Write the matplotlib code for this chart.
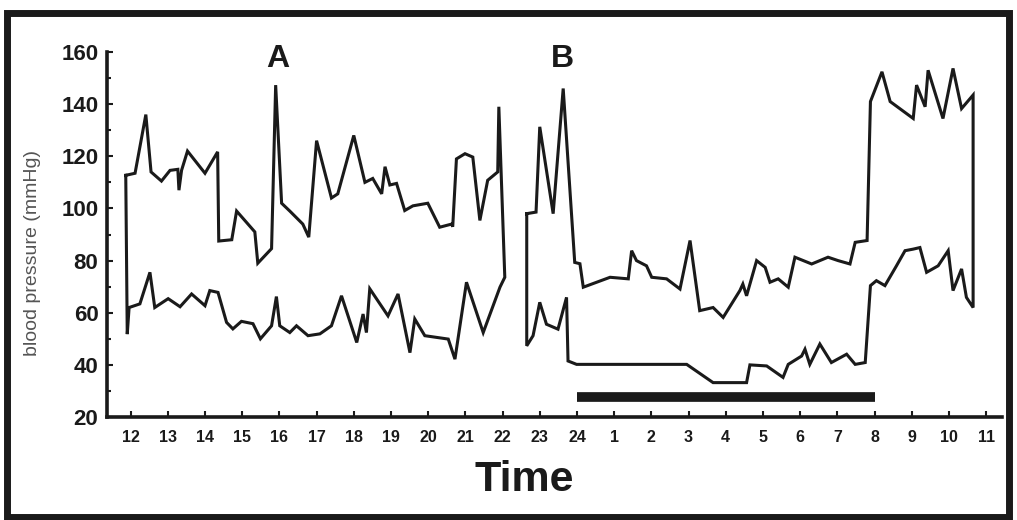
import matplotlib
matplotlib.use("Agg")
import matplotlib.pyplot as plt
from matplotlib.patches import Rectangle
from matplotlib.ticker import MultipleLocator

# time in hours after 12:00 (day 1)
a_sys_t = [-0.13, 0.12, 0.41, 0.55, 0.83, 1.06, 1.27, 1.30, 1.37, 1.53, 2.00, 2.34, 2.37,
           2.72, 2.85, 3.34, 3.42, 3.79, 3.90, 4.06, 4.28, 4.63, 4.79, 5.00, 5.40, 5.57,
           6.00, 6.30, 6.51, 6.75, 6.84, 6.97, 7.15, 7.37, 7.59, 7.99, 8.31, 8.63, 8.66,
           8.76, 8.99, 9.20, 9.39, 9.60, 9.87, 9.90, 10.06]
a_sys = [112.7, 113.5, 136, 114, 110.5, 114.6, 115, 107, 114.6, 122, 113.5, 121.7, 87.5,
         88, 99, 91, 79, 84.6, 147.3, 102, 99, 94, 89, 126, 104, 105.6,
         128, 110, 111.5, 105.6, 116, 109, 109.6, 99.2, 101, 102, 92.8, 94, 93,
         119, 121, 119.7, 95.4, 110.8, 114, 139, 73.6]
a_dia_t = [-0.09, -0.04, 0.25, 0.52, 0.65, 1.01, 1.33, 1.64, 2.00, 2.13, 2.35, 2.58, 2.75,
           2.98, 3.29, 3.49, 3.79, 3.92, 4.01, 4.28, 4.46, 4.77, 5.09, 5.40, 5.67, 6.08,
           6.25, 6.34, 6.43, 6.92, 7.19, 7.51, 7.64, 7.91, 8.54, 8.72, 9.03, 9.48, 9.93,
           10.06]
a_dia = [51.8, 62, 63.4, 75.5, 62, 65.4, 62.3, 67.2, 62.7, 68.5, 67.8, 56.3, 53.8,
         56.7, 55.8, 50, 55, 66.2, 55, 52.4, 55, 51.2, 51.9, 55, 66.5, 48.6,
         59.5, 52.4, 69.2, 58.8, 67.2, 44.7, 57.6, 51.2, 49.9, 42.2, 71.7, 52.4, 69.8,
         73.6]

b_sys_t = [10.65, 10.90, 11.00, 11.36, 11.63, 11.94, 12.08, 12.17, 12.53, 12.89, 13.38,
           13.47, 13.60, 13.87, 14.01, 14.41, 14.77, 15.04, 15.30, 15.66, 15.93, 16.38,
           16.46, 16.56, 16.83, 17.06, 17.19, 17.41, 17.68, 17.86, 18.31, 18.75, 19.02,
           19.34, 19.48, 19.80, 19.89, 20.20, 20.42, 21.04, 21.13, 21.36, 21.44, 21.84,
           22.11, 22.34, 22.65, 22.65]
b_sys = [98, 98.6, 131.3, 98, 146, 79.3, 78.8, 69.8, 71.7, 73.6, 73,
         83.8, 80, 78, 73.6, 73, 69.1, 87.7, 60.8, 62, 58.2, 68.5,
         71, 66.5, 80, 77.4, 71.7, 73, 69.8, 81.3, 78.7, 81.3, 80,
         78.7, 87, 87.7, 141, 152.4, 141, 134.5, 147.3, 139, 153, 134.5,
         153.7, 138.3, 143.5, 62]
b_dia_t = [10.65, 10.82, 11.00, 11.18, 11.49, 11.72, 11.76, 11.99, 14.95, 15.66, 16.56,
           16.65, 17.10, 17.54, 17.68, 18.04, 18.13, 18.26, 18.53, 18.84, 19.25, 19.48,
           19.75, 19.89, 20.05, 20.28, 20.59, 20.82, 21.04, 21.22, 21.40, 21.71, 21.98,
           22.11, 22.34, 22.47, 22.65]
b_dia = [47.3, 51.2, 64, 55.6, 53.7, 65.9, 41.5, 40.2, 40.2, 33.2, 33.2,
         40, 39.6, 35.2, 40.2, 43.4, 46, 40.2, 48, 40.9, 44.1, 40.2,
         40.9, 70.4, 72.3, 70.4, 78, 83.8, 84.4, 85, 75.5, 78, 83.8,
         68.5, 76.8, 65.9, 62]

# sleep period: 24:00 to 8:00
sleep_t = [12, 20]
sleep_y = [27.5, 27.5]

tick_pos = list(range(24))
tick_labels = [str(h) for h in range(12, 25)] + [str(h) for h in range(1, 12)]

plt.rcParams['font.family'] = ['Liberation Sans', 'DejaVu Sans']
ink = '#1a1a1a'

fig = plt.figure(figsize=(10.17, 5.20), dpi=100)
ax = fig.add_axes([0.105, 0.198, 0.88, 0.702])

for st, sv, dt, dv in [(a_sys_t, a_sys, a_dia_t, a_dia), (b_sys_t, b_sys, b_dia_t, b_dia)]:
    xs = st + dt[::-1] + [st[0]]
    ys = sv + dv[::-1] + [sv[0]]
    ax.plot(xs, ys, color=ink, lw=2.2, solid_joinstyle='miter')

ax.plot(sleep_t, sleep_y, color=ink, lw=7, solid_capstyle='butt')

ax.text(3.96, 157.5, 'A', fontsize=23, fontweight='bold', ha='center', va='center', color=ink)
ax.text(11.6, 157.5, 'B', fontsize=23, fontweight='bold', ha='center', va='center', color=ink)

ax.set_xlim(-0.64, 23.42)
ax.set_ylim(20, 160)
ax.set_xticks(tick_pos)
ax.set_xticklabels(tick_labels, fontsize=11.5, fontweight='bold', color=ink)
ax.set_yticks(range(20, 161, 20))
ax.set_yticklabels([str(v) for v in range(20, 161, 20)], fontsize=16, fontweight='bold', color=ink)
ax.yaxis.set_minor_locator(MultipleLocator(10))
ax.tick_params(axis='x', direction='in', length=4, width=1.5, pad=9, colors=ink)
ax.tick_params(axis='y', direction='in', length=4, width=1.5, pad=6, colors=ink)
ax.tick_params(axis='y', which='minor', direction='in', length=3, width=1.5, colors=ink)
for s in ['top', 'right']:
    ax.spines[s].set_visible(False)
for s in ['left', 'bottom']:
    ax.spines[s].set_linewidth(2.6)
    ax.spines[s].set_color(ink)
    ax.spines[s].set_capstyle('projecting')

fig.text(0.515, 0.077, 'Time', fontsize=31, fontweight='bold', ha='center', va='center', color=ink)
fig.text(0.032, 0.513, 'blood pressure (mmHg)', fontsize=14, rotation=90,
         ha='center', va='center', color='#555555')

fig.add_artist(Rectangle((0.0064, 0.0067), 0.9862, 0.9683, transform=fig.transFigure,
                         fill=False, lw=5, edgecolor=ink))

fig.savefig('out.png', dpi=100)
